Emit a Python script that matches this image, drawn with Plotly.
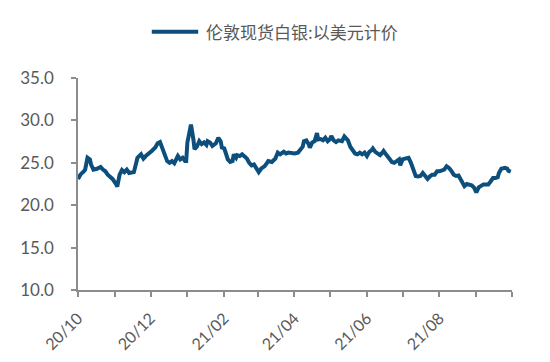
import plotly.graph_objects as go

dates = [
    "2020-10-01", "2020-10-03", "2020-10-06", "2020-10-07", "2020-10-09", "2020-10-11", "2020-10-12",
    "2020-10-14", "2020-10-17", "2020-10-20", "2020-10-22", "2020-10-24", "2020-10-26", "2020-10-28",
    "2020-10-30", "2020-11-02", "2020-11-03", "2020-11-05", "2020-11-07", "2020-11-09", "2020-11-11",
    "2020-11-13", "2020-11-15", "2020-11-17", "2020-11-19", "2020-11-20", "2020-11-23", "2020-11-25",
    "2020-11-27", "2020-11-30", "2020-12-02", "2020-12-05", "2020-12-07", "2020-12-09", "2020-12-11",
    "2020-12-13", "2020-12-15", "2020-12-17", "2020-12-19", "2020-12-21", "2020-12-23", "2020-12-24",
    "2020-12-26", "2020-12-28", "2020-12-30", "2020-12-31", "2021-01-01", "2021-01-03", "2021-01-04",
    "2021-01-06", "2021-01-07", "2021-01-09", "2021-01-11", "2021-01-13", "2021-01-15", "2021-01-17",
    "2021-01-18", "2021-01-20", "2021-01-22", "2021-01-25", "2021-01-27", "2021-01-29", "2021-01-30",
    "2021-02-01", "2021-02-02", "2021-02-04", "2021-02-06", "2021-02-08", "2021-02-09", "2021-02-11",
    "2021-02-12", "2021-02-14", "2021-02-16", "2021-02-18", "2021-02-20", "2021-02-22", "2021-02-24",
    "2021-02-26", "2021-02-28", "2021-03-02", "2021-03-04", "2021-03-07", "2021-03-09", "2021-03-10",
    "2021-03-13", "2021-03-16", "2021-03-18", "2021-03-20", "2021-03-23", "2021-03-25", "2021-03-27",
    "2021-03-30", "2021-04-01", "2021-04-04", "2021-04-06", "2021-04-08", "2021-04-09", "2021-04-11",
    "2021-04-13", "2021-04-14", "2021-04-16", "2021-04-18", "2021-04-20", "2021-04-21", "2021-04-23",
    "2021-04-25", "2021-04-27", "2021-04-29", "2021-05-01", "2021-05-02", "2021-05-04", "2021-05-06",
    "2021-05-08", "2021-05-11", "2021-05-13", "2021-05-15", "2021-05-16", "2021-05-18", "2021-05-20",
    "2021-05-22", "2021-05-24", "2021-05-26", "2021-05-28", "2021-05-30", "2021-06-01", "2021-06-03",
    "2021-06-05", "2021-06-06", "2021-06-08", "2021-06-10", "2021-06-12", "2021-06-14", "2021-06-15",
    "2021-06-17", "2021-06-19", "2021-06-22", "2021-06-24", "2021-06-26", "2021-06-28", "2021-06-29",
    "2021-07-01", "2021-07-03", "2021-07-06", "2021-07-08", "2021-07-10", "2021-07-12", "2021-07-14",
    "2021-07-16", "2021-07-18", "2021-07-19", "2021-07-22", "2021-07-24", "2021-07-26", "2021-07-28",
    "2021-07-30", "2021-08-01", "2021-08-03", "2021-08-05", "2021-08-07", "2021-08-09", "2021-08-11",
    "2021-08-13", "2021-08-15", "2021-08-17", "2021-08-19", "2021-08-21", "2021-08-22", "2021-08-24",
    "2021-08-26", "2021-08-28", "2021-08-30", "2021-09-01", "2021-09-03", "2021-09-05", "2021-09-07",
    "2021-09-09", "2021-09-11", "2021-09-13", "2021-09-15", "2021-09-17", "2021-09-19", "2021-09-20",
    "2021-09-22", "2021-09-25", "2021-09-27", "2021-09-28", "2021-09-30",
]

silver_usd = [
    23.1, 23.6, 24.0, 24.2, 25.6, 25.4, 24.8,
    24.2, 24.3, 24.5, 24.2, 24.0, 23.6, 23.4,
    23.1, 22.5, 22.2, 23.6, 24.15, 23.9, 24.2,
    23.8, 23.8, 23.9, 25.0, 25.6, 26.0, 25.5,
    25.8, 26.1, 26.4, 26.8, 27.3, 27.45, 26.8,
    26.1, 25.2, 25.0, 25.2, 24.95, 25.4, 25.8,
    25.4, 25.6, 25.2, 25.2, 27.4, 28.95, 29.5,
    27.8, 26.6, 26.9, 27.55, 27.2, 27.4, 27.1,
    27.55, 27.4, 27.0, 27.3, 27.95, 27.55, 26.8,
    26.7, 26.2, 25.4, 25.1, 25.2, 26.0, 25.6,
    25.9, 25.8, 26.0, 25.8, 25.5, 25.0, 24.7,
    24.8, 24.3, 23.9, 24.3, 24.6, 25.0, 25.2,
    25.1, 25.5, 26.2, 26.0, 26.3, 26.1, 26.2,
    26.1, 26.1, 26.2, 26.6, 26.9, 27.55, 27.65,
    27.2, 26.8, 27.4, 27.55, 28.5, 27.75, 27.8,
    27.65, 27.95, 27.55, 27.8, 28.15, 27.65, 27.45,
    27.65, 27.55, 28.1, 27.8, 27.65, 26.9, 26.4,
    26.1, 26.0, 26.2, 26.0, 26.2, 25.8, 26.3,
    26.5, 26.7, 26.3, 26.1, 25.9, 26.2, 26.4,
    26.0, 25.6, 25.1, 25.0, 25.2, 25.4, 24.7,
    25.4, 25.5, 25.6, 25.0, 24.2, 23.45, 23.4,
    23.45, 23.8, 23.6, 23.1, 23.4, 23.6, 23.6,
    24.0, 24.0, 24.15, 24.2, 24.6, 24.4, 24.05,
    23.6, 23.45, 23.5, 23.0, 22.45, 22.25, 22.5,
    22.45, 22.35, 22.1, 21.5, 22.1, 22.3, 22.45,
    22.45, 22.45, 22.8, 23.2, 23.2, 23.3, 23.8,
    24.3, 24.4, 24.3, 24.05, 23.95,
]

series_name = "伦敦现货白银:以美元计价"
x_label_dates = ["2020-10-01", "2020-12-01", "2021-02-01", "2021-04-01", "2021-06-01", "2021-08-01"]
x_labels = ["20/10", "20/12", "21/02", "21/04", "21/06", "21/08"]
y_tick_values = [10, 15, 20, 25, 30, 35]
y_tick_labels = ["10.0", "15.0", "20.0", "25.0", "30.0", "35.0"]

LINE = "#0D4F7C"
GRAY = "#595959"
AXIS = "#8C8C8C"
FONT = "Lato, Noto Sans CJK SC, sans-serif"

fig = go.Figure()
fig.add_trace(go.Scatter(
    x=dates, y=silver_usd, mode="lines", name=series_name,
    line=dict(color=LINE, width=4), showlegend=False,
))

# legend drawn as a line sample + label above the plot
fig.add_shape(type="line", xref="paper", yref="paper",
              x0=0.170, x1=0.277, y0=1.218, y1=1.218,
              line=dict(color=LINE, width=4))
fig.add_annotation(text=series_name, xref="paper", yref="paper",
                   x=0.290, y=1.218, xanchor="left", yanchor="middle", showarrow=False,
                   font=dict(size=17, color=GRAY, family="Noto Sans CJK SC, sans-serif"))

fig.update_layout(
    width=542, height=354,
    margin=dict(l=70, r=38, t=70, b=72, autoexpand=False),
    paper_bgcolor="white", plot_bgcolor="white",
    font=dict(family=FONT, color=GRAY, size=16),
    xaxis=dict(
        type="date", range=["2020-10-01", "2021-10-01"],
        tickvals=x_label_dates, ticktext=x_labels,
        tickangle=-45, ticks="outside", ticklen=5, tickcolor=AXIS, tickwidth=1.5,
        showline=True, linecolor=AXIS, linewidth=1.5, showgrid=False, zeroline=False,
        tickfont=dict(size=16, color=GRAY, family=FONT), ticklabelstandoff=6,
        minor=dict(dtick="M1", tick0="2020-10-01", ticks="outside", ticklen=5,
                   tickcolor=AXIS, tickwidth=1.5, showgrid=False),
    ),
    yaxis=dict(
        range=[10, 35], tickvals=y_tick_values, ticktext=y_tick_labels,
        ticks="outside", ticklen=5, tickcolor=AXIS, tickwidth=1.5,
        showline=True, linecolor=AXIS, linewidth=1.5, showgrid=False, zeroline=False,
        tickfont=dict(size=17, color=GRAY, family=FONT), ticklabelstandoff=14,
    ),
)

fig.write_html("out.html")
